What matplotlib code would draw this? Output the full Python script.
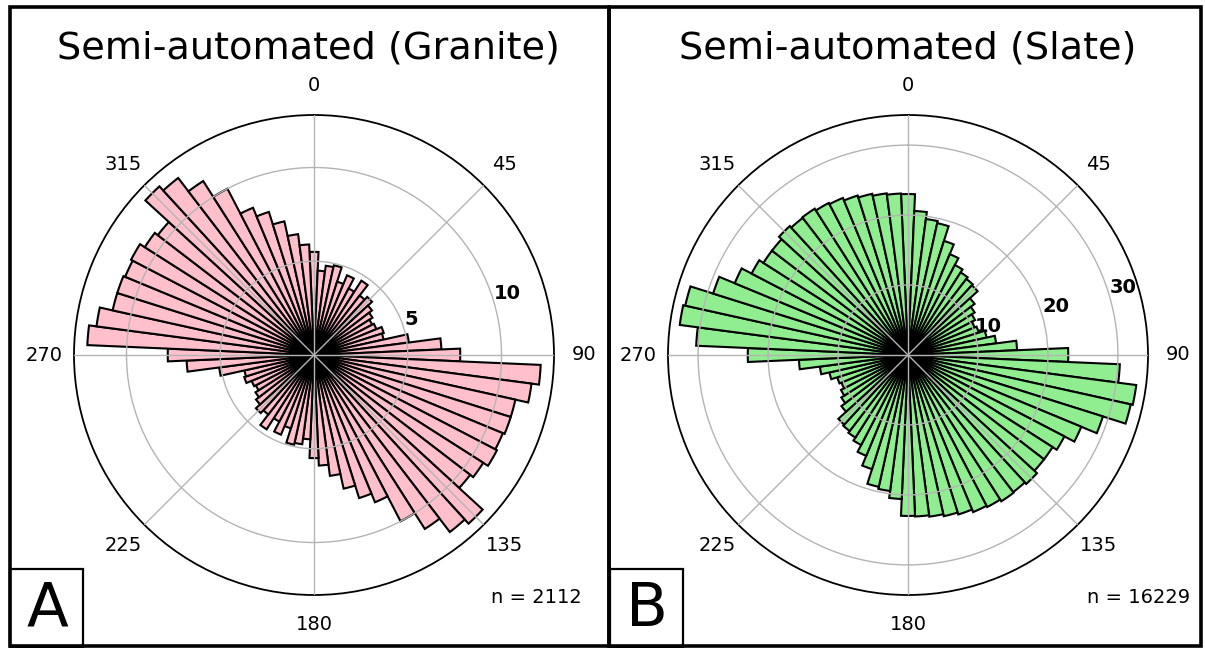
import numpy as np
import matplotlib
matplotlib.use("Agg")
import matplotlib.pyplot as plt
from matplotlib.patches import Rectangle

# Bin centres (degrees, strike 0-175, mirrored to 180-355)
bin_centers = list(range(0, 180, 5))

granite_vals = [5.5, 4.5, 4.8, 4.9, 4.1, 4.6, 4.0, 4.7, 4.0, 4.2, 3.9, 3.7,
                3.5, 3.6, 3.9, 3.8, 5.1, 6.8, 7.8, 12.1, 11.7, 11.0, 11.0, 10.9,
                11.0, 10.7, 10.5, 12.2, 11.9, 11.0, 10.0, 8.5, 8.0, 7.3, 6.5, 5.9]

slate_vals = [23.0, 20.6, 19.6, 19.3, 17.1, 15.6, 14.5, 14.0, 13.7, 13.5, 12.0, 11.3,
              10.8, 10.3, 10.6, 11.5, 12.7, 15.6, 22.9, 30.3, 32.9, 32.6, 29.2, 26.8,
              25.2, 24.5, 24.5, 25.0, 24.7, 24.8, 24.5, 24.3, 23.9, 23.6, 23.3, 23.1]

theta_ticks = [0, 45, 90, 135, 180, 225, 270, 315]
theta_labels = ["0", "45", "90", "135", "180", "225", "270", "315"]

granite_rticks = [5, 10]
slate_rticks = [10, 20, 30]

titles = ["Semi-automated (Granite)", "Semi-automated (Slate)"]
n_labels = ["n = 2112", "n = 16229"]
panel_letters = ["A", "B"]

W, H = 1205, 648
fig = plt.figure(figsize=(W / 100, H / 100), dpi=100)


def fx(x):
    return x / W


def fy(y):
    return 1 - y / H


def rose(ax, vals, color, rticks, rmax):
    centers = np.array(bin_centers, dtype=float)
    th = np.deg2rad(np.concatenate([centers, centers + 180]))
    r = np.concatenate([vals, vals])
    ax.bar(th, r, width=np.deg2rad(5), bottom=0, color=color,
           edgecolor="black", linewidth=1.5, align="center", zorder=1)
    ax.set_theta_zero_location("N")
    ax.set_theta_direction(-1)
    ax.set_ylim(0, rmax)
    ax.set_rticks(rticks)
    ax.set_yticklabels([str(t) for t in rticks], fontsize=14, fontweight="bold")
    ax.set_rlabel_position(74)
    ax.set_thetagrids(theta_ticks, labels=theta_labels, fontsize=14)
    ax.tick_params(axis="x", pad=11)
    ax.grid(True, color="#b4b4b4", linewidth=1.0)
    ax.set_axisbelow(False)
    ax.spines["polar"].set_linewidth(1.3)


R = 240
centers_px = [(314, 355), (908, 355)]
colors = ["pink", "lightgreen"]
data = [granite_vals, slate_vals]
rt = [granite_rticks, slate_rticks]
rmaxes = [12.8, 34.3]

for i in range(2):
    cx, cy = centers_px[i]
    ax = fig.add_axes([fx(cx - R), fy(cy + R), 2 * R / W, 2 * R / H], projection="polar")
    rose(ax, data[i], colors[i], rt[i], rmaxes[i])

# Titles
fig.text(fx(308), fy(49), titles[0], fontsize=27.5, ha="center", va="center")
fig.text(fx(908), fy(49), titles[1], fontsize=27.5, ha="center", va="center")

# n labels
fig.text(fx(582), fy(603), n_labels[0], fontsize=14, ha="right", va="baseline")
fig.text(fx(1190), fy(603), n_labels[1], fontsize=14, ha="right", va="baseline")

# Panel frames
for (x0, x1) in [(10, 609), (609, 1201)]:
    fig.add_artist(Rectangle((fx(x0), fy(646)), fx(x1) - fx(x0), fy(7) - fy(646),
                             transform=fig.transFigure, fill=False,
                             edgecolor="black", linewidth=2.6, zorder=10))

# Panel letter boxes
for j, x0 in enumerate([10, 610]):
    fig.add_artist(Rectangle((fx(x0), fy(647)), fx(x0 + 73) - fx(x0), fy(569) - fy(647),
                             transform=fig.transFigure, fill=False,
                             edgecolor="black", linewidth=1.6, zorder=10))
    fig.text(fx(x0 + 37), fy(609), panel_letters[j], fontsize=44,
             ha="center", va="center")

fig.savefig("out.png", dpi=100)
